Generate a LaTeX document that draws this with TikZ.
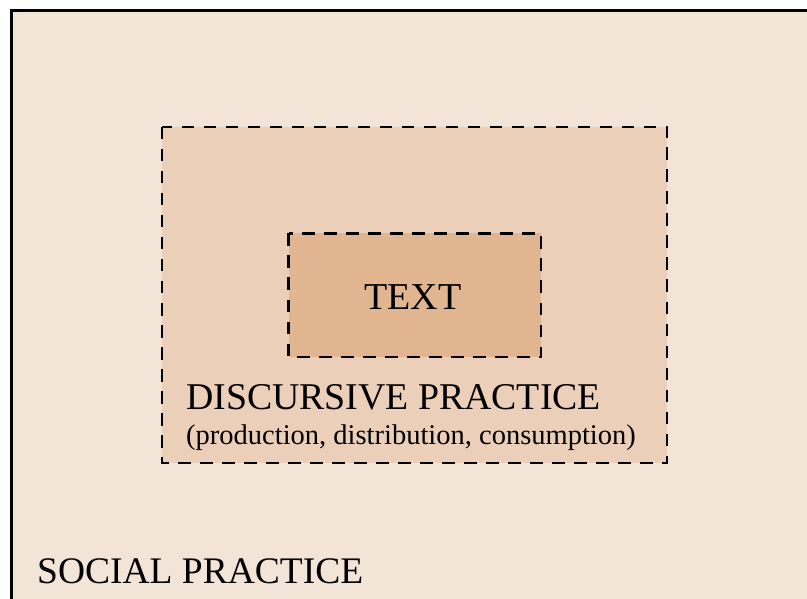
\documentclass[tikz,border=0pt]{standalone}
\usepackage{fontspec}
\setmainfont{Liberation Serif}
\begin{document}
\definecolor{socialfill}{RGB}{243,228,216}
\definecolor{discfill}{RGB}{236,207,184}
\definecolor{textfill}{RGB}{226,181,145}
\begin{tikzpicture}[x=1pt,y=-1pt,
  layerbox/.style={draw=black,line width=2.6pt,dash pattern=on 12.5pt off 9.5pt},
  label/.style={inner sep=0pt,anchor=base west}]
\useasboundingbox (0,0) rectangle (807,599);
\clip (0,0) rectangle (807,599);
% outer layer: social practice
\draw[fill=socialfill,line width=3pt] (11,11) rectangle (830,630);
% middle layer: discursive practice
\draw[layerbox,fill=discfill] (162,127) rectangle (667,463);
% inner layer: text
\draw[layerbox,fill=textfill] (288.5,233.5) rectangle (541,357);
\node[inner sep=0pt,anchor=base] (txt) at (413,309) {\fontsize{38}{38}\selectfont TEXT};
\node[label] (disc) at (186,409) {\fontsize{37.8}{38}\selectfont DISCURSIVE PRACTICE};
\node[label] (proc) at (186,444) {\fontsize{28.5}{29}\selectfont (production, distribution, consumption)};
\node[label] (soc) at (37,583) {\fontsize{37.5}{38}\selectfont SOCIAL PRACTICE};
\end{tikzpicture}
\end{document}
